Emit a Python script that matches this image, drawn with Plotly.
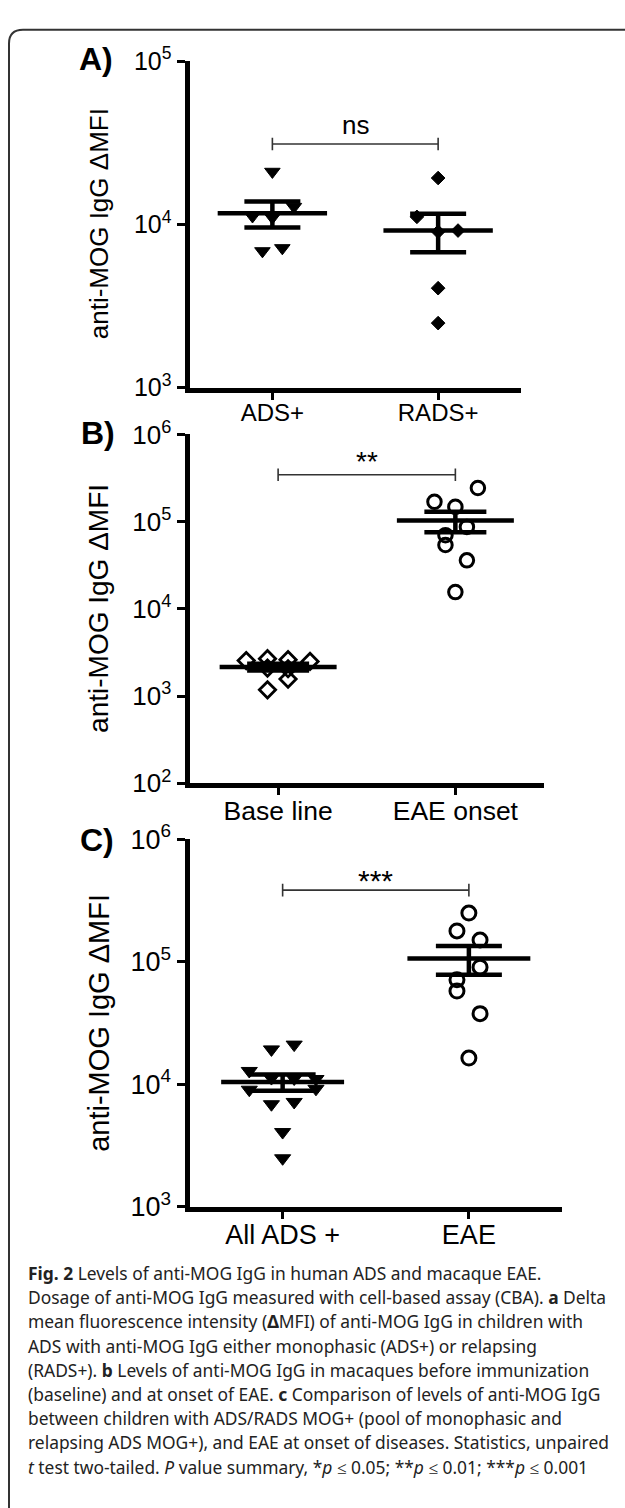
import numpy as np
import plotly.graph_objects as go

# ---------------- data ----------------
a_categories = ["ADS+", "RADS+"]
a_ads = [21000, 11200, 11000, 12800, 6850, 7150]
a_rads = [19200, 11100, 9000, 9150, 4060, 2480]
a_ads_jitter = [0, -0.12, 0, 0.13, -0.06, 0.06]
a_rads_jitter = [0, -0.128, 0, 0.12, 0, 0]
a_bracket = 31000
a_sig = "ns"

b_categories = ["Base line", "EAE onset"]
b_baseline = [2560, 2690, 2620, 2500, 1180, 1570, 2100, 2060]
b_baseline_jitter = [-0.18, -0.06, 0.056, 0.18, -0.06, 0.056, -0.06, 0.056]
b_eae = [243000, 169000, 148000, 87000, 70000, 54000, 36000, 15600]
b_eae_jitter = [0.127, -0.118, 0, 0.065, -0.056, -0.056, 0.065, 0]
b_bracket = 345000
b_sig = "**"

c_categories = ["All ADS +", "EAE"]
c_all_ads = a_ads + a_rads
c_all_ads_jitter = [0.062, -0.06, 0.179, -0.179, -0.06, 0.062,
                    -0.06, 0.062, -0.179, 0.179, 0, 0]
c_eae = [249000, 178000, 150000, 90000, 71000, 57500, 37600, 16300]
c_eae_jitter = [0, -0.064, 0.06, 0.06, -0.064, -0.064, 0.06, 0]
c_bracket = 383000
c_sig = "***"

y_title = "anti-MOG IgG \u0394MFI"

caption_lines = [
    "<b>Fig. 2</b> Levels of anti-MOG IgG in human ADS and macaque EAE.",
    "Dosage of anti-MOG IgG measured with cell-based assay (CBA). <b>a</b> Delta",
    "mean fluorescence intensity (<b>\u0394</b>MFI) of anti-MOG IgG in children with",
    "ADS with anti-MOG IgG either monophasic (ADS+) or relapsing",
    "(RADS+). <b>b</b> Levels of anti-MOG IgG in macaques before immunization",
    "(baseline) and at onset of EAE. <b>c</b> Comparison of levels of anti-MOG IgG",
    "between children with ADS/RADS MOG+ (pool of monophasic and",
    "relapsing ADS MOG+), and EAE at onset of diseases. Statistics, unpaired",
    "<i>t</i> test two-tailed. <i>P</i> value summary, *<i>p</i> \u2264 0.05; **<i>p</i> \u2264 0.01; ***<i>p</i> \u2264 0.001",
]

# ---------------- helpers ----------------
W, H = 625, 1508
ARIAL = "Arial, Liberation Sans, sans-serif"


def px(x):
    return x / W


def py(y):
    return 1 - y / H


fig = go.Figure()


def add_group(ax, idx, values, jitter, symbol, size, lw, cap_px):
    vals = np.array(values, dtype=float)
    xs = [idx + j for j in jitter]
    mean = vals.mean()
    sem = vals.std(ddof=1) / np.sqrt(len(vals))
    # mean line
    fig.add_trace(go.Scatter(
        x=[idx - 0.33, idx + 0.33], y=[mean, mean], mode="lines",
        line=dict(color="black", width=4.5), xaxis="x" + ax, yaxis="y" + ax,
        hoverinfo="skip", showlegend=False))
    # SEM bar
    fig.add_trace(go.Scatter(
        x=[idx], y=[mean], mode="markers", marker=dict(size=1, color="black", opacity=0),
        error_y=dict(type="data", array=[sem], symmetric=True, color="black",
                     thickness=4.5, width=cap_px),
        xaxis="x" + ax, yaxis="y" + ax, hoverinfo="skip", showlegend=False))
    # points
    mk = dict(symbol=symbol, size=size, color="black",
              line=dict(color="black", width=lw))
    fig.add_trace(go.Scatter(
        x=xs, y=vals, mode="markers", marker=mk,
        xaxis="x" + ax, yaxis="y" + ax, showlegend=False))


def add_bracket(ax, yval, text, fsize, shift):
    fig.add_trace(go.Scatter(
        x=[0, 1], y=[yval, yval], mode="lines+markers",
        line=dict(color="#333333", width=1.6),
        marker=dict(symbol="line-ns", size=9, line=dict(color="#333333", width=1.6)),
        xaxis="x" + ax, yaxis="y" + ax, hoverinfo="skip", showlegend=False))
    fig.add_annotation(x=0.5, y=np.log10(yval), xref="x" + ax, yref="y" + ax,
                       text=text, showarrow=False, yanchor="middle", yshift=shift,
                       font=dict(family=ARIAL, size=fsize, color="black"))


# Panel A
add_group("", 0, a_ads, a_ads_jitter, "triangle-down", 13.5, 1, 28)
add_group("", 1, a_rads, a_rads_jitter, "diamond", 10.5, 1, 28)
add_bracket("", a_bracket, a_sig, 26, 19)

# Panel B
add_group("2", 0, b_baseline, b_baseline_jitter, "diamond-open", 12.5, 2.8, 31)
add_group("2", 1, b_eae, b_eae_jitter, "circle-open", 13.5, 3, 31)
add_bracket("2", b_bracket, b_sig, 28, 13)

# Panel C
add_group("3", 0, c_all_ads, c_all_ads_jitter, "triangle-down", 14, 1, 33)
add_group("3", 1, c_eae, c_eae_jitter, "circle-open", 14, 3, 33)
add_bracket("3", c_bracket, c_sig, 30, 10)

# ---------------- axes ----------------
panels = {
    "": dict(xd=(189.5, 521), yd=(43, 377), yr=(3, 5), cats=a_categories, tf=25, cf=24, tt=26, lab="A)", labpos=(96, 41)),
    "2": dict(xd=(189.5, 544), yd=(425, 782), yr=(2, 6), cats=b_categories, tf=26, cf=26.5, tt=28, lab="B)", labpos=(98, 424)),
    "3": dict(xd=(189.5, 562), yd=(839, 1215), yr=(3, 6), cats=c_categories, tf=27, cf=27, tt=29, lab="C)", labpos=(97, 840)),
}

layout = dict(width=W, height=H, margin=dict(l=0, r=0, t=0, b=0),
              paper_bgcolor="white", plot_bgcolor="white", showlegend=False)

for k, p in panels.items():
    xa = "xaxis" + k
    ya = "yaxis" + k
    tvals = [10 ** e for e in range(p["yr"][0], p["yr"][1] + 1)]
    ttext = ["10<sup>%d</sup>" % e for e in range(p["yr"][0], p["yr"][1] + 1)]
    layout[xa] = dict(domain=[px(p["xd"][0]), px(p["xd"][1])], anchor="y" + k,
                      range=[-0.5, 1.5], tickvals=[0, 1], ticktext=p["cats"],
                      showline=True, linewidth=5, linecolor="black",
                      ticks="outside", ticklen=7, tickwidth=3, tickcolor="black",
                      ticklabelstandoff=-7,
                      showgrid=False, zeroline=False,
                      tickfont=dict(family=ARIAL, size=p["cf"], color="black"))
    layout[ya] = dict(domain=[py(p["yd"][1]), py(p["yd"][0])], anchor="x" + k,
                      type="log", range=list(p["yr"]), tickvals=tvals, ticktext=ttext,
                      showline=True, linewidth=5, linecolor="black",
                      ticks="outside", ticklen=8, tickwidth=3, tickcolor="black",
                      showgrid=False, zeroline=False,
                      tickfont=dict(family=ARIAL, size=p["tf"], color="black"))
    fig.add_annotation(x=px(99), y=py((p["yd"][0] + p["yd"][1]) / 2), xref="paper", yref="paper",
                       text=y_title, textangle=-90, showarrow=False,
                       xanchor="center", yanchor="middle",
                       font=dict(family=ARIAL, size=p["tt"], color="black"))
    fig.add_annotation(x=px(p["labpos"][0]), y=py(p["labpos"][1]), xref="paper", yref="paper",
                       text="<b>%s</b>" % p["lab"], showarrow=False,
                       xanchor="center", yanchor="middle",
                       font=dict(family=ARIAL, size=32, color="black"))

fig.update_layout(**layout)

# caption
for i, line in enumerate(caption_lines):
    fig.add_annotation(x=px(26), y=py(1283 + i * 24.75), xref="paper", yref="paper",
                       text=line, showarrow=False, xanchor="left", yanchor="middle",
                       align="left", font=dict(family="Noto Sans", size=17.4, color="#222222"))

# rounded frame
x0, yt = px(9), py(11)
rx, ry = 14 / W, 14 / H
fig.add_shape(type="path", xref="paper", yref="paper",
              path=f"M {x0},-0.05 L {x0},{yt - ry} Q {x0},{yt} {x0 + rx},{yt} L 1.05,{yt}",
              line=dict(color="#333333", width=2))

fig.write_html("out.html",
               config={"displayModeBar": False},
               post_script="document.body.style.margin='0';document.body.style.overflow='hidden';")
